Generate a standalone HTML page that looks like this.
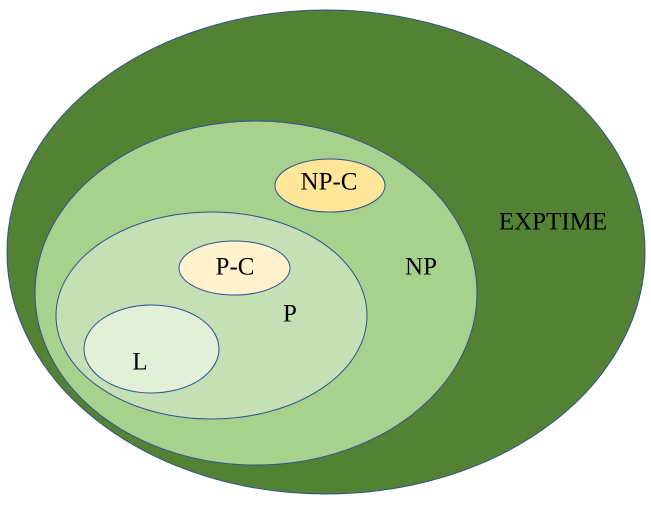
<!DOCTYPE html>
<html><head><meta charset="utf-8"><style>
html,body{margin:0;padding:0;background:#fff;}
svg{display:block;}
text{font-family:"Liberation Serif",serif;font-size:25px;fill:#000;text-anchor:middle;dominant-baseline:central;}
</style></head><body>
<svg width="651" height="515" viewBox="0 0 651 515" xmlns="http://www.w3.org/2000/svg">
<g stroke="#2F528F" stroke-width="1">
<ellipse cx="326" cy="252" rx="319" ry="242" fill="#548235"/>
<ellipse cx="256" cy="293" rx="221" ry="172" fill="#A9D18E"/>
<ellipse cx="211.5" cy="315.5" rx="155.5" ry="103.5" fill="#C5E0B4"/>
<ellipse cx="151.5" cy="349" rx="67.5" ry="44" fill="#E2F0D9"/>
<ellipse cx="234.5" cy="268" rx="55.5" ry="27" fill="#FFF2CC"/>
<ellipse cx="330" cy="185.5" rx="55" ry="26.5" fill="#FFE699"/>
</g>
<text x="553" y="222">EXPTIME</text>
<text x="421" y="267">NP</text>
<text x="290" y="314">P</text>
<text x="140" y="362">L</text>
<text x="235" y="267">P-C</text>
<text x="329" y="182">NP-C</text>
</svg>
</body></html>
